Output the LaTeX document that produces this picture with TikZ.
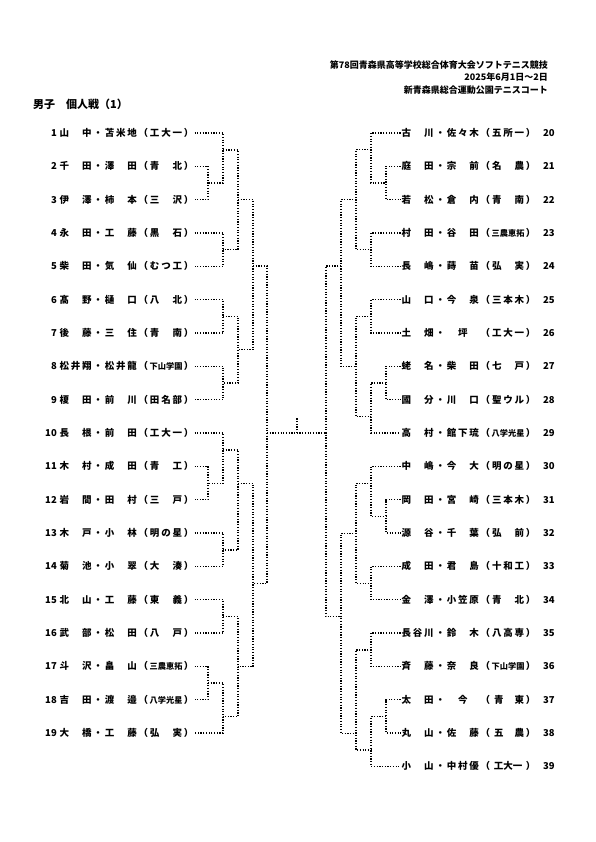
\documentclass[tikz,border=0pt]{standalone}
\usepackage{fontspec}
\setmainfont{Noto Sans CJK JP}
\newlength\cw \setlength\cw{11.3pt}
\newcommand\cc[1]{\makebox[\cw]{#1}}
\newcommand\sch[3]{\cc{#1}\cc{#2}\cc{#3}}
\newcommand\smsch[1]{\makebox[3\cw]{\fontsize{8.2}{8}\selectfont #1}}
\newcommand\EN[7]{\cc{#1}\cc{#2}\cc{#3}\cc{・}\cc{#4}\cc{#5}\cc{#6}\cc{（}#7\cc{）}}
\begin{document}
\begin{tikzpicture}[x=1pt,y=-1pt,
  ent/.style={inner sep=0pt, font=\fontsize{9.5}{10}\selectfont\bfseries},
  lent/.style={ent, anchor=west},
  rent/.style={ent, anchor=west},
  lnum/.style={ent, anchor=east},
  rnum/.style={ent, anchor=west},
  hdr/.style={inner sep=0pt, anchor=east, font=\fontsize{9}{10}\selectfont\bfseries},
  br/.style={line width=1.2pt, dash pattern=on 1.2pt off 1.5pt, black}]
\useasboundingbox (0,0) rectangle (595,842);
\fill[white] (0,0) rectangle (595,842);
% header
\node[hdr] (h1) at (548,65) {第78回青森県高等学校総合体育大会ソフトテニス競技};
\node[hdr] (h2) at (548,77) {2025年6月1日～2日};
\node[hdr] (h3) at (548,90) {新青森県総合運動公園テニスコート};
\node[inner sep=0pt, anchor=west, font=\fontsize{11}{12}\selectfont\bfseries] (title) at (33,104) {男子　個人戦（1）};
% left entries
\node[lnum] (N1) at (57,133) {1};
\node[lent] (L1) at (58.5,133) {\EN{山}{}{中}{苫}{米}{地}{\sch{工}{大}{一}}};
\node[lnum] (N2) at (57,166.3) {2};
\node[lent] (L2) at (58.5,166.3) {\EN{千}{}{田}{澤}{}{田}{\sch{青}{}{北}}};
\node[lnum] (N3) at (57,199.7) {3};
\node[lent] (L3) at (58.5,199.7) {\EN{伊}{}{澤}{柿}{}{本}{\sch{三}{}{沢}}};
\node[lnum] (N4) at (57,233) {4};
\node[lent] (L4) at (58.5,233) {\EN{永}{}{田}{工}{}{藤}{\sch{黒}{}{石}}};
\node[lnum] (N5) at (57,266.3) {5};
\node[lent] (L5) at (58.5,266.3) {\EN{柴}{}{田}{気}{}{仙}{\sch{む}{つ}{工}}};
\node[lnum] (N6) at (57,299.7) {6};
\node[lent] (L6) at (58.5,299.7) {\EN{髙}{}{野}{樋}{}{口}{\sch{八}{}{北}}};
\node[lnum] (N7) at (57,333) {7};
\node[lent] (L7) at (58.5,333) {\EN{後}{}{藤}{三}{}{住}{\sch{青}{}{南}}};
\node[lnum] (N8) at (57,366.3) {8};
\node[lent] (L8) at (58.5,366.3) {\EN{松}{井}{翔}{松}{井}{龍}{\smsch{下山学園}}};
\node[lnum] (N9) at (57,399.7) {9};
\node[lent] (L9) at (58.5,399.7) {\EN{榎}{}{田}{前}{}{川}{\sch{田}{名}{部}}};
\node[lnum] (N10) at (57,433) {10};
\node[lent] (L10) at (58.5,433) {\EN{長}{}{根}{前}{}{田}{\sch{工}{大}{一}}};
\node[lnum] (N11) at (57,466.3) {11};
\node[lent] (L11) at (58.5,466.3) {\EN{木}{}{村}{成}{}{田}{\sch{青}{}{工}}};
\node[lnum] (N12) at (57,499.7) {12};
\node[lent] (L12) at (58.5,499.7) {\EN{岩}{}{間}{田}{}{村}{\sch{三}{}{戸}}};
\node[lnum] (N13) at (57,533) {13};
\node[lent] (L13) at (58.5,533) {\EN{木}{}{戸}{小}{}{林}{\sch{明}{の}{星}}};
\node[lnum] (N14) at (57,566.3) {14};
\node[lent] (L14) at (58.5,566.3) {\EN{菊}{}{池}{小}{}{翠}{\sch{大}{}{湊}}};
\node[lnum] (N15) at (57,599.7) {15};
\node[lent] (L15) at (58.5,599.7) {\EN{北}{}{山}{工}{}{藤}{\sch{東}{}{義}}};
\node[lnum] (N16) at (57,633) {16};
\node[lent] (L16) at (58.5,633) {\EN{武}{}{部}{松}{}{田}{\sch{八}{}{戸}}};
\node[lnum] (N17) at (57,666.3) {17};
\node[lent] (L17) at (58.5,666.3) {\EN{斗}{}{沢}{畠}{}{山}{\smsch{三農恵拓}}};
\node[lnum] (N18) at (57,699.7) {18};
\node[lent] (L18) at (58.5,699.7) {\EN{吉}{}{田}{渡}{}{邉}{\smsch{八学光星}}};
\node[lnum] (N19) at (57,733) {19};
\node[lent] (L19) at (58.5,733) {\EN{大}{}{橋}{工}{}{藤}{\sch{弘}{}{実}}};
% right entries
\node[rent] (R20) at (400.5,133) {\EN{古}{}{川}{佐}{々}{木}{\sch{五}{所}{一}}};
\node[rnum] (M20) at (543,133) {20};
\node[rent] (R21) at (400.5,166.3) {\EN{庭}{}{田}{宗}{}{前}{\sch{名}{}{農}}};
\node[rnum] (M21) at (543,166.3) {21};
\node[rent] (R22) at (400.5,199.7) {\EN{若}{}{松}{倉}{}{内}{\sch{青}{}{南}}};
\node[rnum] (M22) at (543,199.7) {22};
\node[rent] (R23) at (400.5,233) {\EN{村}{}{田}{谷}{}{田}{\smsch{三農恵拓}}};
\node[rnum] (M23) at (543,233) {23};
\node[rent] (R24) at (400.5,266.3) {\EN{長}{}{嶋}{蒔}{}{苗}{\sch{弘}{}{実}}};
\node[rnum] (M24) at (543,266.3) {24};
\node[rent] (R25) at (400.5,299.7) {\EN{山}{}{口}{今}{}{泉}{\sch{三}{本}{木}}};
\node[rnum] (M25) at (543,299.7) {25};
\node[rent] (R26) at (400.5,333) {\EN{土}{}{畑}{}{坪}{}{\sch{工}{大}{一}}};
\node[rnum] (M26) at (543,333) {26};
\node[rent] (R27) at (400.5,366.3) {\EN{蛯}{}{名}{柴}{}{田}{\sch{七}{}{戸}}};
\node[rnum] (M27) at (543,366.3) {27};
\node[rent] (R28) at (400.5,399.7) {\EN{國}{}{分}{川}{}{口}{\sch{聖}{ウ}{ル}}};
\node[rnum] (M28) at (543,399.7) {28};
\node[rent] (R29) at (400.5,433) {\EN{高}{}{村}{館}{下}{琉}{\smsch{八学光星}}};
\node[rnum] (M29) at (543,433) {29};
\node[rent] (R30) at (400.5,466.3) {\EN{中}{}{嶋}{今}{}{大}{\sch{明}{の}{星}}};
\node[rnum] (M30) at (543,466.3) {30};
\node[rent] (R31) at (400.5,499.7) {\EN{岡}{}{田}{宮}{}{崎}{\sch{三}{本}{木}}};
\node[rnum] (M31) at (543,499.7) {31};
\node[rent] (R32) at (400.5,533) {\EN{源}{}{谷}{千}{}{葉}{\sch{弘}{}{前}}};
\node[rnum] (M32) at (543,533) {32};
\node[rent] (R33) at (400.5,566.3) {\EN{成}{}{田}{君}{}{島}{\sch{十}{和}{工}}};
\node[rnum] (M33) at (543,566.3) {33};
\node[rent] (R34) at (400.5,599.7) {\EN{金}{}{澤}{小}{笠}{原}{\sch{青}{}{北}}};
\node[rnum] (M34) at (543,599.7) {34};
\node[rent] (R35) at (400.5,633) {\EN{長}{谷}{川}{鈴}{}{木}{\sch{八}{高}{専}}};
\node[rnum] (M35) at (543,633) {35};
\node[rent] (R36) at (400.5,666.3) {\EN{斉}{}{藤}{奈}{}{良}{\smsch{下山学園}}};
\node[rnum] (M36) at (543,666.3) {36};
\node[rent] (R37) at (400.5,699.7) {\EN{太}{}{田}{}{今}{}{\makebox[3\cw]{\hspace{3pt}青\hfill 東\hspace{1pt}}}};
\node[rnum] (M37) at (543,699.7) {37};
\node[rent] (R38) at (400.5,733) {\EN{丸}{}{山}{佐}{}{藤}{\makebox[3\cw]{\hspace{3pt}五\hfill 農\hspace{1pt}}}};
\node[rnum] (M38) at (543,733) {38};
\node[rent] (R39) at (400.5,766.3) {\EN{小}{}{山}{中}{村}{優}{\makebox[3\cw]{工大一}}};
\node[rnum] (M39) at (543,766.3) {39};
% left junctions
\coordinate (a23) at (208,183);
\coordinate (a1) at (223,150);
\coordinate (a45) at (223,249.7);
\coordinate (aA) at (238,199.7);
\coordinate (a67) at (223,316.3);
\coordinate (a89) at (223,383);
\coordinate (aB) at (238,349.7);
\coordinate (aAB) at (253,266);
\coordinate (a1112) at (208,483.3);
\coordinate (a10) at (223,450);
\coordinate (a1314) at (223,550);
\coordinate (aC) at (238,483.3);
\coordinate (a1516) at (223,616.7);
\coordinate (a1718) at (208,683);
\coordinate (a19) at (223,716.7);
\coordinate (aD) at (238,666.7);
\coordinate (aCD) at (253,583.3);
\coordinate (aL) at (267,433);
% right junctions
\coordinate (b2122) at (386,183);
\coordinate (b20) at (371,149.7);
\coordinate (b2324) at (371,249.7);
\coordinate (bA) at (356,199.7);
\coordinate (b2526) at (371,316.3);
\coordinate (b2728) at (386,383);
\coordinate (b29) at (371,416.7);
\coordinate (bB) at (356,366.3);
\coordinate (bAB) at (341,266);
\coordinate (b3132) at (386,516.7);
\coordinate (b30) at (371,483.3);
\coordinate (b3334) at (371,583.3);
\coordinate (bC) at (356,533.3);
\coordinate (b3536) at (371,650);
\coordinate (b3738) at (386,716.7);
\coordinate (b39) at (371,750);
\coordinate (bD) at (356,733.3);
\coordinate (bCD) at (341,616.7);
\coordinate (bR) at (326,433);
\coordinate (fin) at (297,433);
\coordinate (fintop) at (297,418);
% left bracket
\draw[br] (L2.east) -| (a23) |- (L3.east);
\draw[br] (L1.east) -| (a1) |- (a23);
\draw[br] (L4.east) -| (a45) |- (L5.east);
\draw[br] (a1) -| (aA) |- (a45);
\draw[br] (L6.east) -| (a67) |- (L7.east);
\draw[br] (L8.east) -| (a89) |- (L9.east);
\draw[br] (a67) -| (aB) |- (a89);
\draw[br] (aA) -| (aAB) |- (aB);
\draw[br] (L11.east) -| (a1112) |- (L12.east);
\draw[br] (L10.east) -| (a10) |- (a1112);
\draw[br] (L13.east) -| (a1314) |- (L14.east);
\draw[br] (a10) -| (aC) |- (a1314);
\draw[br] (L15.east) -| (a1516) |- (L16.east);
\draw[br] (L17.east) -| (a1718) |- (L18.east);
\draw[br] (a1718) -| (a19) |- (L19.east);
\draw[br] (a1516) -| (aD) |- (a19);
\draw[br] (aC) -| (aCD) |- (aD);
\draw[br] (aAB) -| (aL) |- (aCD);
% right bracket
\draw[br] (R21.west) -| (b2122) |- (R22.west);
\draw[br] (R20.west) -| (b20) |- (b2122);
\draw[br] (R23.west) -| (b2324) |- (R24.west);
\draw[br] (b20) -| (bA) |- (b2324);
\draw[br] (R25.west) -| (b2526) |- (R26.west);
\draw[br] (R27.west) -| (b2728) |- (R28.west);
\draw[br] (b2728) -| (b29) |- (R29.west);
\draw[br] (b2526) -| (bB) |- (b29);
\draw[br] (bA) -| (bAB) |- (bB);
\draw[br] (R31.west) -| (b3132) |- (R32.west);
\draw[br] (R30.west) -| (b30) |- (b3132);
\draw[br] (R33.west) -| (b3334) |- (R34.west);
\draw[br] (b30) -| (bC) |- (b3334);
\draw[br] (R35.west) -| (b3536) |- (R36.west);
\draw[br] (R37.west) -| (b3738) |- (R38.west);
\draw[br] (b3738) -| (b39) |- (R39.west);
\draw[br] (b3536) -| (bD) |- (b39);
\draw[br] (bC) -| (bCD) |- (bD);
\draw[br] (bAB) -| (bR) |- (bCD);
% final
\draw[br] (aL) -- (bR);
\draw[br] (fin) -- (fintop);
\end{tikzpicture}
\end{document}
